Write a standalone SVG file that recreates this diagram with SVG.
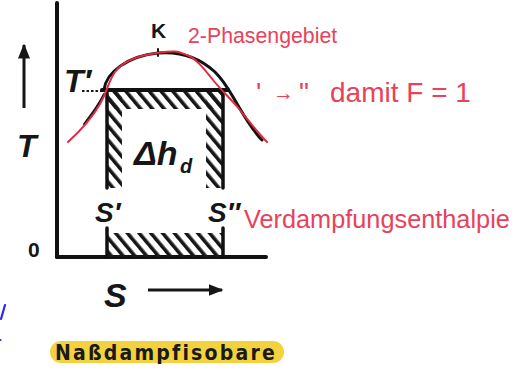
<svg xmlns="http://www.w3.org/2000/svg" width="526" height="370" viewBox="0 0 526 370">
<style>
.ink{stroke:#111;fill:none;stroke-linecap:round;stroke-linejoin:round}
.lbl{font-family:"Liberation Sans",Arial,sans-serif;font-style:italic;font-weight:bold;fill:#161616}
.up{font-style:normal}
.red{font-family:"Liberation Sans",Arial,sans-serif;fill:#e8425a}
.hatch{fill:url(#h)}
</style>
<defs>
<pattern id="h" patternUnits="userSpaceOnUse" width="9" height="9" patternTransform="rotate(-40)">
<rect x="0" y="0" width="3.6" height="9" fill="#161616"/>
</pattern>
<marker id="ah" viewBox="0 0 10 10" refX="9" refY="5" markerWidth="5" markerHeight="5" orient="auto">
<path d="M0,1 L10,5 L0,9 z" fill="#161616"/>
</marker>
</defs>
<rect width="526" height="370" fill="#fff"/>

<g id="axes">
<line class="ink" x1="57" y1="3" x2="57" y2="257" stroke-width="4"/>
<line class="ink" x1="57" y1="257" x2="266" y2="257" stroke-width="4"/>
</g>

<g id="hatched-area">
<rect class="hatch" x="107" y="90" width="116" height="19"/>
<rect class="hatch" x="107" y="90" width="15" height="98"/>
<rect class="hatch" x="206" y="90" width="17" height="98"/>
<rect class="hatch" x="107" y="233" width="116" height="24"/>
<line class="ink" x1="102" y1="90" x2="228" y2="90" stroke-width="4"/>
<line class="ink" x1="107" y1="90" x2="107" y2="188" stroke-width="3.5"/>
<line class="ink" x1="107" y1="228" x2="107" y2="257" stroke-width="3.5"/>
<line class="ink" x1="223" y1="90" x2="223" y2="188" stroke-width="3.5"/>
<line class="ink" x1="223" y1="228" x2="223" y2="257" stroke-width="3.5"/>
<line x1="82" y1="91" x2="104" y2="91" stroke="#161616" stroke-width="1.8" stroke-dasharray="2.5 2"/>
</g>

<g id="dome">
<path class="ink" stroke-width="3" d="M104,90 C106,72 128,56 158,53 C182,51 200,58 215,72 C225,82 230,92 236,102 C244,116 252,130 262,140"/>
<path class="ink" stroke-width="2" d="M104,94 C98,106 92,114 84,124"/>
<line class="ink" x1="158" y1="49" x2="158" y2="56" stroke-width="2"/>
<path fill="none" stroke="#e02a40" stroke-width="2" stroke-linecap="round" d="M68,142 C78,133 92,118 100,104 S108,82 115,72 S135,56 157,53 S178,52 187,55 S205,70 213,80 S232,100 240,110 S258,133 267,142"/>
</g>

<g id="labels">
<text class="lbl up" x="151" y="38" font-size="21">K</text>
<text class="lbl" x="64" y="92" font-size="32">T′</text>
<text class="lbl" x="17" y="157" font-size="32">T</text>
<text class="lbl" x="134" y="165" font-size="34">Δh</text>
<text class="lbl" x="180" y="173" font-size="20">d</text>
<text class="lbl" x="95" y="222" font-size="28">S′</text>
<text class="lbl" x="208" y="222" font-size="28">S″</text>
<text class="lbl up" x="28" y="257" font-size="21">0</text>
<text class="lbl" x="104" y="307" font-size="34">S</text>
</g>

<g id="connectors">
<line x1="24" y1="108" x2="24" y2="45" stroke="#161616" stroke-width="3" marker-end="url(#ah)"/>
<line x1="148" y1="290" x2="222" y2="290" stroke="#161616" stroke-width="3" marker-end="url(#ah)"/>
</g>

<g id="annotations">
<text class="red" x="188" y="43" font-size="21.3">2-Phasengebiet</text>
<text class="red" font-size="28" y="102"><tspan x="256">'</tspan><tspan x="273" font-size="21" dy="-2">→</tspan><tspan x="299" dy="2">"</tspan><tspan x="330">damit F = 1</tspan></text>
<text class="red" x="244" y="228" font-size="25.3">Verdampfungsenthalpie</text>
<line x1="5" y1="305" x2="1" y2="319" stroke="#2a2ae8" stroke-width="2.2" stroke-linecap="round"/>
<circle cx="0.5" cy="340" r="1" fill="#2a2ae8"/>
</g>

<g id="caption">
<rect x="50" y="341" width="234" height="22" rx="11" fill="#f4d23e"/>
<text x="55" y="360" font-family="DejaVu Sans Condensed,DejaVu Sans,sans-serif" font-weight="bold" font-size="21" letter-spacing="2.2" fill="#1a1a1a">Naßdampfisobare</text>
</g>
</svg>
